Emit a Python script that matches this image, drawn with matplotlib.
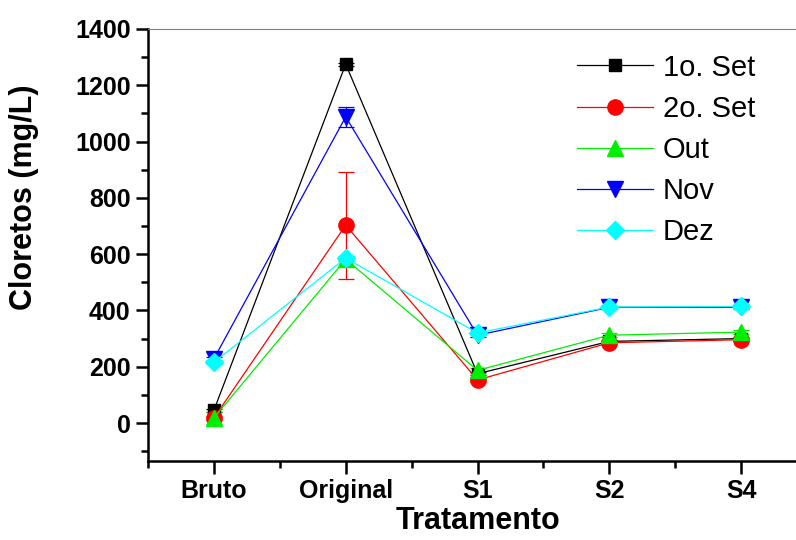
import matplotlib
matplotlib.use('Agg')
import matplotlib.pyplot as plt
from matplotlib.ticker import MultipleLocator
from matplotlib.lines import Line2D
import numpy as np

plt.rcParams['font.family'] = ['Liberation Sans', 'DejaVu Sans']

# data
tratamentos = ['Bruto', 'Original', 'S1', 'S2', 'S4']
series = ['1o. Set', '2o. Set', 'Out', 'Nov', 'Dez']
set1 = [45, 1275, 175, 290, 300]
set1_err = [5, 5, 5, 5, 5]
set2 = [18, 703, 153, 285, 296]
set2_err = [8, 190, 6, 6, 6]
out = [18, 582, 187, 312, 323]
out_err = [20, 8, 8, 8, 8]
nov = [228, 1088, 312, 411, 411]
nov_err = [8, 35, 8, 6, 6]
dez = [216, 586, 320, 412, 414]
dez_err = [8, 8, 8, 8, 8]

values = [set1, set2, out, nov, dez]
errors = [set1_err, set2_err, out_err, nov_err, dez_err]
colors = ['black', 'red', '#00ee00', 'blue', 'cyan']
markers = ['s', 'o', '^', 'v', 'D']
msizes = [9, 11, 11, 11, 9]

fig = plt.figure(figsize=(7.96, 5.4), dpi=100)
ax = fig.add_axes([148/796, 1 - 461/540, (807 - 148)/796, (461 - 29)/540])

x = np.arange(len(tratamentos))
handles = []
for vals, err, c, m, ms, name in zip(values, errors, colors, markers, msizes, series):
    ax.errorbar(x, vals, yerr=err, color=c, marker=m, markersize=ms,
                linewidth=0.9, elinewidth=0.9, capsize=6, capthick=0.9,
                clip_on=False)
    handles.append(Line2D([], [], color=c, marker=m, markersize=ms,
                          linewidth=0.9, label=name))

ax.set_xlim(-0.5, 4.5)
ax.set_ylim(-135, 1400)
ax.set_xticks(x)
ax.set_xticklabels(tratamentos)
ax.xaxis.set_minor_locator(MultipleLocator(0.5))
ax.yaxis.set_major_locator(MultipleLocator(200))
ax.yaxis.set_minor_locator(MultipleLocator(100))

for lab in ax.get_xticklabels() + ax.get_yticklabels():
    lab.set_fontweight('bold')
ax.tick_params(axis='both', which='major', labelsize=18, length=9, width=1.8, direction='out')
ax.tick_params(axis='both', which='minor', length=5, width=1.8, direction='out')
ax.tick_params(axis='x', pad=4)

ax.spines['left'].set_linewidth(1.8)
ax.spines['bottom'].set_linewidth(1.8)
ax.spines['top'].set_linewidth(0.8)
ax.spines['top'].set_color('#808080')
ax.spines['right'].set_visible(False)

ax.set_xlabel('Tratamento', fontsize=22, fontweight='bold', labelpad=2)
ax.set_ylabel('Cloretos (mg/L)', fontsize=22, fontweight='bold')
ax.yaxis.set_label_coords(-0.166, 0.61)

ax.legend(handles=handles, loc='upper left', bbox_to_anchor=(0.651, 0.943), frameon=False,
          fontsize=21, handlelength=2.6, handletextpad=0.35, borderpad=0,
          borderaxespad=0, labelspacing=0.45, numpoints=1)

fig.savefig('out.png', dpi=100)
